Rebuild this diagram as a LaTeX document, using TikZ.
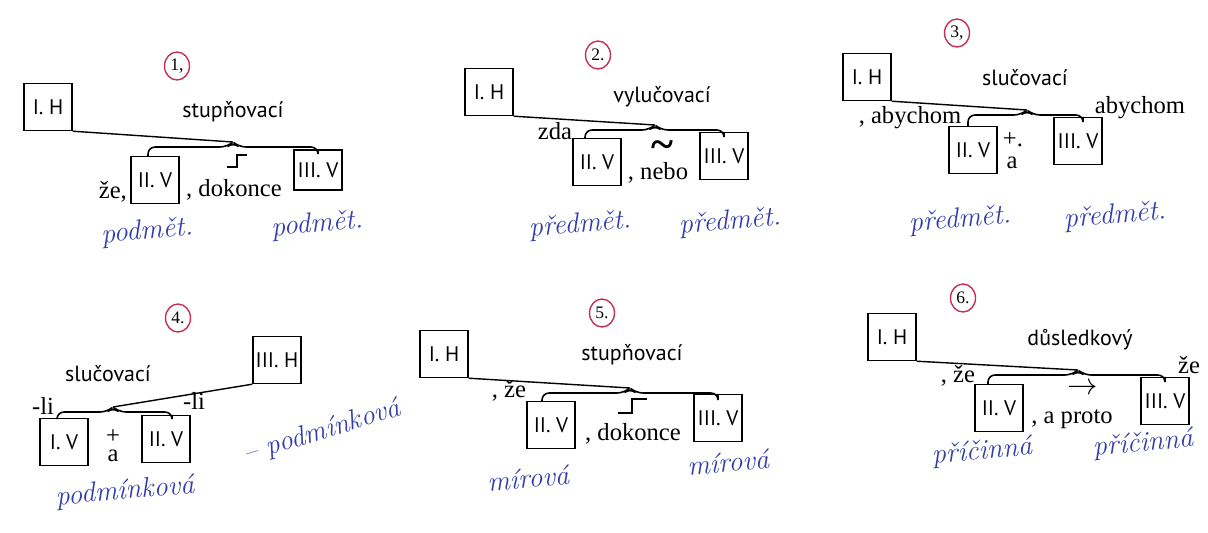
\documentclass[tikz,border=0pt]{standalone}
\usepackage{fontspec}
\usepackage{xcolor}
\usetikzlibrary{shapes.geometric}
\newfontfamily\sansf{PT Sans}
\newfontfamily\serf{Liberation Serif}
\definecolor{penblue}{RGB}{52,62,168}
\definecolor{penred}{RGB}{196,48,86}

\begin{document}
\begin{tikzpicture}[x=0.02cm,y=-0.02cm,
        box/.style={draw,line width=0.8pt,minimum width=0.96cm,minimum height=0.94cm,inner sep=0pt,font=\sansf\fontsize{12}{14}\selectfont},
        kind/.style={font=\sansf\fontsize{12.5}{14}\selectfont},
        conj/.style={font=\serf\fontsize{14}{16}\selectfont,inner sep=1pt},
        num/.style={draw=penred,line width=0.8pt,ellipse,minimum width=0.5cm,minimum height=0.56cm,inner sep=0pt,font=\serf\fontsize{10}{12}\selectfont},
        hand/.style={text=penblue,font=\itshape\fontsize{16}{18}\selectfont,rotate=5,inner sep=1pt},
        link/.style={line width=0.8pt},
        brace/.style={line width=0.9pt,rounded corners=4pt}]
        \useasboundingbox (0,0) rectangle (1208,532);
        % 1
        \node[num](c1) at (177,66) {1,};
        \node[box](h1) at (48,107) {I. H};
        \node[kind](t1) at (233,112) {stupňovací};
        \node[box](b1) at (155,180) {II. V};
        \node[box,minimum height=0.8cm](b2) at (318,170) {III. V};
        \coordinate(j1) at (233,142);
        \coordinate(k1) at (233,147);
        \draw[link](h1.south east)--(j1);
        \draw[brace]([xshift=-0.14cm]b1.north)--([xshift=-0.14cm]b1.north |- k1)--([xshift=-0.12cm]k1)--(j1)--([xshift=0.12cm]k1)--(b2.north |- k1)--(b2.north);
        \node[conj,anchor=east](s1) at (129,192) {že,};
        \node[conj](d1) at (234,190) {, dokonce};
        \draw[link](227,167)--(237,167)--(237,155)--(247,155);
        \node[hand](p1) at (147,232) {podmět.};
        \node[hand](p2) at (317,225) {podmět.};
        % 2
        \node[num](c2) at (598,55) {2.};
        \node[box](h2) at (489,92) {I. H};
        \node[kind](t2) at (662,97) {vylučovací};
        \node[box](b3) at (597,162) {II. V};
        \node[box](b4) at (724,156) {III. V};
        \coordinate(j2) at (655,125);
        \coordinate(k2) at (655,130);
        \draw[link](h2.south east)--(j2);
        \draw[brace]([xshift=-0.24cm]b3.north)--([xshift=-0.24cm]b3.north |- k2)--([xshift=-0.12cm]k2)--(j2)--([xshift=0.12cm]k2)--(b4.north |- k2)--(b4.north);
        \node[conj](z2) at (555,131) {zda};
        \node[conj,font=\serf\bfseries\fontsize{24}{24}\selectfont](w2) at (662,150) {\char`\~};
        \node[conj](n2) at (658,173) {, nebo};
        \node[hand](p3) at (580,225) {předmět.};
        \node[hand](p4) at (730,222) {předmět.};
        % 3
        \node[num](c3) at (957,33) {3,};
        \node[box](h3) at (867,77) {I. H};
        \node[kind](t3) at (1025,78) {slučovací};
        \node[box](b5) at (973,150) {II. V};
        \node[box](b6) at (1078,141) {III. V};
        \coordinate(j3) at (1027,110);
        \coordinate(k3) at (1027,115);
        \draw[link](h3.south east)--(j3);
        \draw[brace]([xshift=-0.1cm]b5.north)--([xshift=-0.1cm]b5.north |- k3)--([xshift=-0.12cm]k3)--(j3)--([xshift=0.12cm]k3)--([xshift=0.1cm]b6.north |- k3)--([xshift=0.1cm]b6.north);
        \node[conj](a3) at (910,118) {, abychom};
        \node[conj](a4) at (1140,108) {abychom};
        \node[conj](q3) at (1013,140) {+.};
        \node[conj](r3) at (1012,163) {a};
        \node[hand](p5) at (960,220) {předmět.};
        \node[hand](p6) at (1115,216) {předmět.};
        % 4
        \node[num](c4) at (178,318) {4.};
        \node[kind](t4) at (108,374) {slučovací};
        \node[box](h4) at (277,360) {III. H};
        \node[box](b7) at (64,442) {I. V};
        \node[box](b8) at (166,439) {II. V};
        \coordinate(j4) at (113,407);
        \coordinate(k4) at (113,412);
        \draw[link](h4.south west)--(j4);
        \draw[brace]([xshift=-0.14cm]b7.north)--([xshift=-0.14cm]b7.north |- k4)--([xshift=-0.12cm]k4)--(j4)--([xshift=0.12cm]k4)--([xshift=0.12cm]b8.north |- k4)--([xshift=0.12cm]b8.north);
        \node[conj](l4) at (43,406) {-li};
        \node[conj](m4) at (194,401) {-li};
        \node[conj](q4) at (113,437) {+};
        \node[conj](r4) at (113,456) {a};
        \node[hand,rotate=12](p7) at (322,432) {– podmínková};
        \node[hand](p8) at (125,492) {podmínková};
        % 5
        \node[num](c5) at (602,313) {5.};
        \node[box](h5) at (444,354) {I. H};
        \node[kind](t5) at (632,355) {stupňovací};
        \node[box](b9) at (551,425) {II. V};
        \node[box](b10) at (718,418) {III. V};
        \coordinate(j5) at (630,388);
        \coordinate(k5) at (630,393);
        \draw[link](h5.south east)--(j5);
        \draw[brace]([xshift=-0.18cm]b9.north)--([xshift=-0.18cm]b9.north |- k5)--([xshift=-0.12cm]k5)--(j5)--([xshift=0.12cm]k5)--(b10.north |- k5)--(b10.north);
        \node[conj](s5) at (509,391) {, že};
        \draw[link](618,413)--(632,413)--(632,399)--(647,399);
        \node[conj](d5) at (633,434) {, dokonce};
        \node[hand](p9) at (528,478) {mírová};
        \node[hand](p10) at (728,462) {mírová};
        % 6
        \node[num](c6) at (963,298) {6.};
        \node[box](h6) at (892,337) {I. H};
        \node[kind](t6) at (1080,340) {důsledkový};
        \node[box](b11) at (999,408) {II. V};
        \node[box](b12) at (1165,401) {III. V};
        \coordinate(j6) at (1078,370);
        \coordinate(k6) at (1078,375);
        \draw[link](h6.south east)--(j6);
        \draw[brace]([xshift=-0.22cm]b11.north)--([xshift=-0.22cm]b11.north |- k6)--([xshift=-0.12cm]k6)--(j6)--([xshift=0.12cm]k6)--(b12.north |- k6)--(b12.north);
        \node[conj](s6) at (958,376) {, že};
        \node[conj](s7) at (1189,365) {že};
        \node[conj,font=\fontsize{17}{17}\selectfont](e6) at (1083,389) {$\rightarrow$};
        \node[conj](n6) at (1072,419) {, a proto};
        \node[hand](p11) at (982,452) {příčinná};
        \node[hand](p12) at (1143,444) {příčinná};
\end{tikzpicture}
\end{document}
